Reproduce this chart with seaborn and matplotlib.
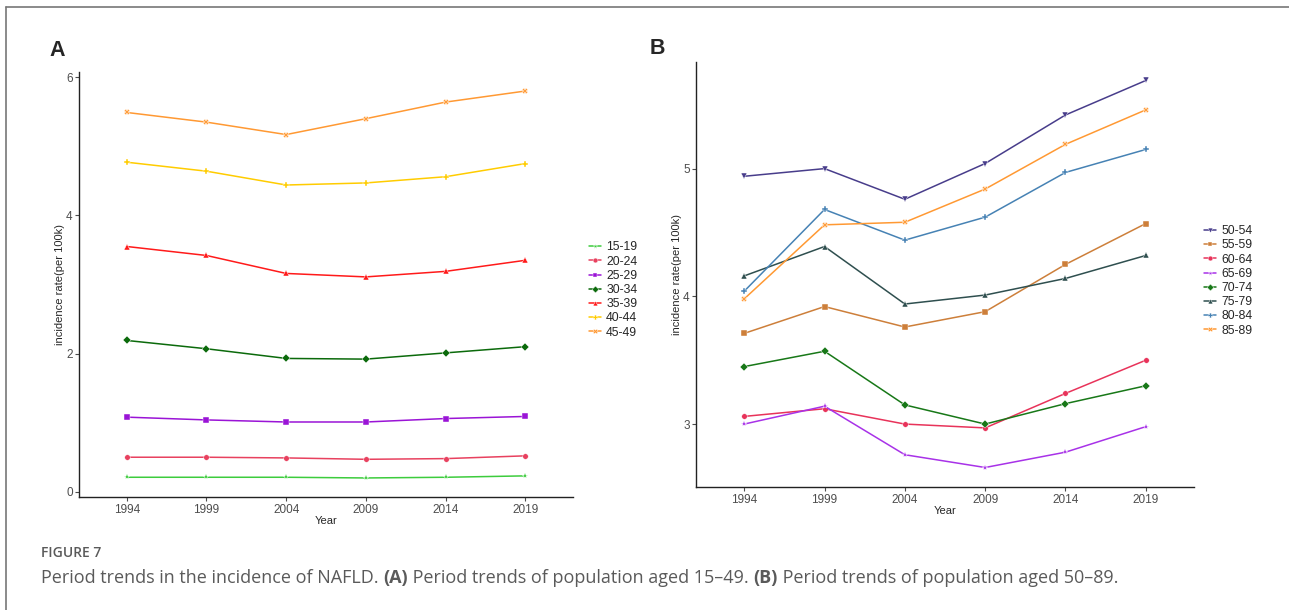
#!/usr/bin/env python

import matplotlib
matplotlib.use('Agg')
import matplotlib.pyplot as plt
from matplotlib.lines import Line2D
import pandas as pd
import seaborn as sns

years = [1994, 1999, 2004, 2009, 2014, 2019]

# panel A: ages 15-49
groups_a = ['15-19', '20-24', '25-29', '30-34', '35-39', '40-44', '45-49']
rate_15_19 = [0.21, 0.21, 0.21, 0.20, 0.21, 0.23]
rate_20_24 = [0.50, 0.50, 0.49, 0.47, 0.48, 0.52]
rate_25_29 = [1.08, 1.04, 1.01, 1.01, 1.06, 1.09]
rate_30_34 = [2.19, 2.07, 1.93, 1.92, 2.01, 2.10]
rate_35_39 = [3.55, 3.42, 3.16, 3.11, 3.19, 3.35]
rate_40_44 = [4.77, 4.64, 4.44, 4.47, 4.56, 4.75]
rate_45_49 = [5.49, 5.35, 5.17, 5.40, 5.64, 5.80]

# panel B: ages 50-89
groups_b = ['50-54', '55-59', '60-64', '65-69', '70-74', '75-79', '80-84', '85-89']
rate_50_54 = [4.94, 5.00, 4.76, 5.04, 5.42, 5.69]
rate_55_59 = [3.71, 3.92, 3.76, 3.88, 4.25, 4.57]
rate_60_64 = [3.06, 3.12, 3.00, 2.97, 3.24, 3.50]
rate_65_69 = [3.00, 3.14, 2.76, 2.66, 2.78, 2.98]
rate_70_74 = [3.45, 3.57, 3.15, 3.00, 3.16, 3.30]
rate_75_79 = [4.16, 4.39, 3.94, 4.01, 4.14, 4.32]
rate_80_84 = [4.04, 4.68, 4.44, 4.62, 4.97, 5.15]
rate_85_89 = [3.98, 4.56, 4.58, 4.84, 5.19, 5.46]

colors_a = ['#3DCC3D', '#E8415F', '#9A14D6', '#0B6A0B', '#FF1A1A', '#FFCC00', '#FF9933']
markers_a = ['*', 'o', 's', 'D', '^', 'P', 'X']
colors_b = ['#483D8B', '#CD7F3A', '#E8335A', '#A832E8', '#187818', '#2F4F4F', '#4682B4', '#FF9933']
markers_b = ['v', 's', 'o', '*', 'D', '^', 'P', 'X']


def long_table(groups, series):
    rows = []
    for g, vals in zip(groups, series):
        for y, v in zip(years, vals):
            rows.append({'Year': y, 'rate': v, 'age': g})
    return pd.DataFrame(rows)


def draw_panel(ax, df, groups, colors, markers, ylim, yticks, legend_pos):
    sns.lineplot(
        data=df, x='Year', y='rate', hue='age', style='age',
        hue_order=groups, style_order=groups,
        palette=dict(zip(groups, colors)),
        markers=dict(zip(groups, markers)), dashes=False,
        linewidth=1.1, markersize=4, markeredgewidth=0.3,
        ax=ax,
    )
    ax.set_xlim(years[0] - 3, years[-1] + 3)
    ax.set_xticks(years)
    ax.set_xticklabels([str(y) for y in years])
    ax.set_ylim(*ylim)
    ax.set_yticks(yticks)
    ax.set_yticklabels([str(t) for t in yticks])
    ax.set_xlabel('Year', fontsize=8, labelpad=0)
    ax.set_ylabel('incidence rate(per 100k)', fontsize=8, labelpad=0.5)
    ax.tick_params(bottom=True, left=True, colors='#4D4D4D', labelsize=8.5,
                   length=3, width=0.8, pad=1.5)
    sns.despine(ax=ax)
    for s in ('left', 'bottom'):
        ax.spines[s].set_linewidth(1.0)
        ax.spines[s].set_color('#222222')
    ax.grid(False)
    leg = ax.legend(
        loc='center left', bbox_to_anchor=legend_pos,
        bbox_transform=ax.figure.transFigure,
        frameon=False, title=None, fontsize=8.8,
        handlelength=1.0, handletextpad=0.4, labelspacing=0.18,
        borderaxespad=0, borderpad=0,
    )
    for h in leg.legend_handles:
        h.set_markersize(3.5)


def main():
    sns.set_style('white')
    plt.rcParams['font.family'] = ['Liberation Sans', 'DejaVu Sans']

    fig = plt.figure(figsize=(12.89, 6.10), dpi=100)
    W, H = 1289, 610

    def box(x0, x1, y0, y1):
        return [x0 / W, 1 - y1 / H, (x1 - x0) / W, (y1 - y0) / H]

    ax_a = fig.add_axes(box(79, 573, 71.7, 497.3))
    ax_b = fig.add_axes(box(696, 1194, 61.7, 487.3))

    df_a = long_table(groups_a, [rate_15_19, rate_20_24, rate_25_29, rate_30_34,
                                 rate_35_39, rate_40_44, rate_45_49])
    df_b = long_table(groups_b, [rate_50_54, rate_55_59, rate_60_64, rate_65_69,
                                 rate_70_74, rate_75_79, rate_80_84, rate_85_89])

    draw_panel(ax_a, df_a, groups_a, colors_a, markers_a,
               (-0.08, 6.08), [0, 2, 4, 6], (589 / W, 1 - 290 / H))
    draw_panel(ax_b, df_b, groups_b, colors_b, markers_b,
               (2.505, 5.837), [3, 4, 5], (1204 / W, 1 - 281 / H))

    # panel letters
    fig.text(57 / W, 1 - 51 / H, 'A', fontsize=15.5, fontweight='bold', ha='center', va='center')
    fig.text(657 / W, 1 - 49 / H, 'B', fontsize=15.5, fontweight='bold', ha='center', va='center')

    # frame lines of the figure box
    fig.add_artist(Line2D([6 / W, 6 / W], [0, 1 - 7 / H], color='#777777', lw=1.2))
    fig.add_artist(Line2D([6 / W, 1], [1 - 7 / H, 1 - 7 / H], color='#777777', lw=1.2))

    # caption
    cap = dict(family=['Open Sans', 'DejaVu Sans'], color='#5a5a5a', va='center')
    fig.text(41 / W, 1 - 553 / H, 'FIGURE 7', fontsize=10, fontweight='semibold', **cap)

    pieces = [
        ('Period trends in the incidence of NAFLD. ', 'normal'),
        ('(A)', 'bold'),
        (' Period trends of population aged 15\u201349. ', 'normal'),
        ('(B)', 'bold'),
        (' Period trends of population aged 50\u201389.', 'normal'),
    ]
    renderer = fig.canvas.get_renderer()
    x = 41 / W
    for txt, wt in pieces:
        t = fig.text(x, 1 - 578 / H, txt, fontsize=13, fontweight=wt, **cap)
        bb = t.get_window_extent(renderer=renderer)
        x += bb.width / W

    fig.savefig('out.png', dpi=100)


if __name__ == '__main__':
    main()
